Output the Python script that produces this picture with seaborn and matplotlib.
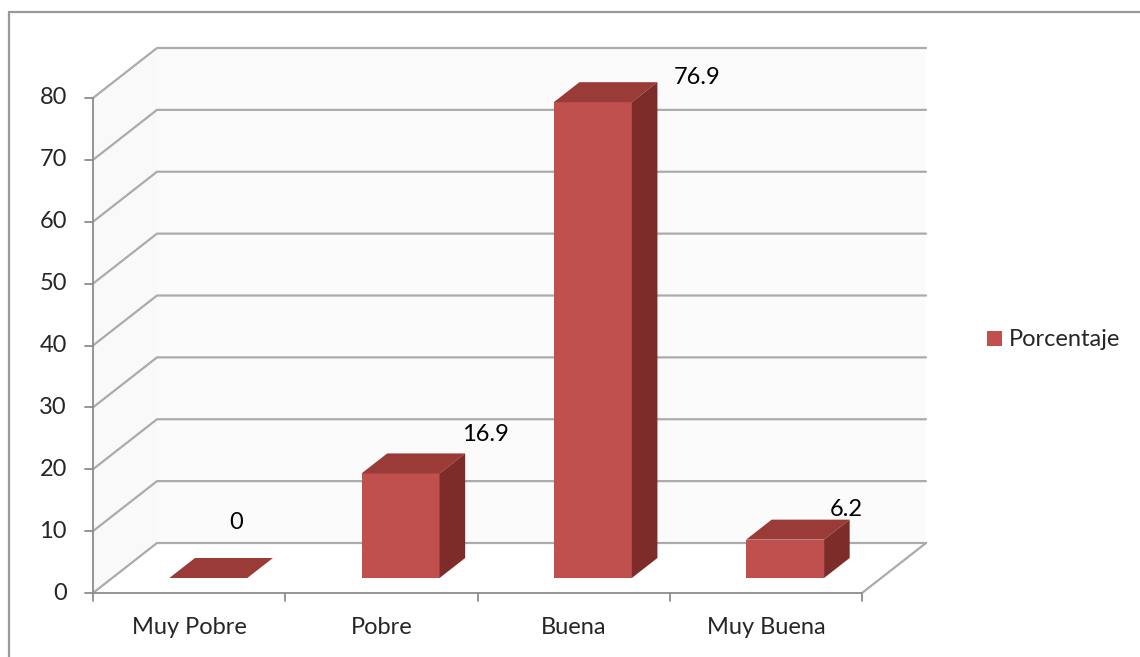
import matplotlib
matplotlib.use('Agg')
import matplotlib.pyplot as plt
import seaborn as sns
from matplotlib.patches import Polygon, Rectangle
from matplotlib.lines import Line2D

# Data
categories = ['Muy Pobre', 'Pobre', 'Buena', 'Muy Buena']
values = [0, 16.9, 76.9, 6.2]
series_name = 'Porcentaje'
y_ticks = [0, 10, 20, 30, 40, 50, 60, 70, 80]

# Colours
front = '#C0504D'
top = '#9A3B38'
side = '#7E2C2A'
grid = '#ABABAB'

sns.set_theme(style='white')
plt.rcParams['font.family'] = ['Lato', 'DejaVu Sans']
FS = 17

W, H = 1140, 657
fig = plt.figure(figsize=(W / 100, H / 100), dpi=100)

# axes placed in pixels: front axis from x=93 to back wall end x=930, y=0 at 593, top of back wall 48
ax = fig.add_axes([93 / W, (H - 593) / H, (930 - 93) / W, (593 - 48) / H])
px_x = 192.25          # pixels per category
px_y = 6.1875          # pixels per unit
xmax = -0.5 + (930 - 93) / px_x
ymax = (593 - 48) / px_y
ax.set_xlim(-0.5, xmax)
ax.set_ylim(0, ymax)
ax.axis('off')

DX = 64 / px_x         # depth offset of the back wall
DY = 50 / px_y
bw = 78 / px_x         # bar width
d0, d1 = 0.3, 0.7      # bar front/back depth fraction

# back wall gridlines
ax.add_patch(Polygon([(-0.5, 0), (-0.5 + DX, DY), (-0.5 + DX, 80 + DY), (-0.5, 80)],
                     closed=True, facecolor='#F9F9F9', edgecolor='none', zorder=0))
ax.add_patch(Polygon([(-0.5 + DX, DY), (3.5 + DX, DY), (3.5 + DX, 80 + DY), (-0.5 + DX, 80 + DY)],
                     closed=True, facecolor='#FBFBFB', edgecolor='none', zorder=0))
for v in y_ticks:
    ax.add_line(Line2D([-0.5, -0.5 + DX, 3.5 + DX], [v, v + DY, v + DY],
                       color=grid, lw=1.6, zorder=1, clip_on=False))
# floor right edge
ax.add_line(Line2D([3.5, 3.5 + DX], [0, DY], color=grid, lw=1.6, zorder=1, clip_on=False))

# bars
sns.barplot(x=categories, y=values, color=front, width=bw, saturation=1, ax=ax, zorder=3)
ax.set_xlim(-0.5, xmax)
ax.set_ylim(0, ymax)
ddx = (d1 - d0) * DX
ddy = (d1 - d0) * DY
for p in ax.patches[2:]:
    x0 = p.get_x() + d0 * DX
    y0 = d0 * DY
    h = p.get_height()
    p.set_x(x0)
    p.set_y(y0)
    p.set_edgecolor('none')
    x1 = x0 + p.get_width()
    ax.add_patch(Polygon([(x0, y0 + h), (x1, y0 + h), (x1 + ddx, y0 + h + ddy), (x0 + ddx, y0 + h + ddy)],
                         closed=True, facecolor=top, edgecolor='none', zorder=4))
    ax.add_patch(Polygon([(x1, y0), (x1 + ddx, y0 + ddy), (x1 + ddx, y0 + h + ddy), (x1, y0 + h)],
                         closed=True, facecolor=side, edgecolor='none', zorder=4))

# data labels (Excel places them loosely above/right of each bar)
label_off = [(-8, 40), (33, 28), (47, 18), (16, 22)]
for p, v, off in zip(ax.patches[2:], values, label_off):
    ax.annotate(f'{v:g}', (p.get_x() + p.get_width(), p.get_y() + p.get_height()),
                xytext=off, textcoords='offset points', ha='center', va='center',
                fontsize=FS, color='black', zorder=6)

# axes lines and ticks
ax.add_line(Line2D([-0.5, -0.5], [0, 80], color='#8C8C8C', lw=1.3, zorder=5, clip_on=False))
ax.add_line(Line2D([-0.5, 3.5], [0, 0], color='#8C8C8C', lw=1.3, zorder=5, clip_on=False))
tl_x = 8 / px_x
tl_y = 8 / px_y
for v in y_ticks:
    ax.add_line(Line2D([-0.5 - tl_x, -0.5], [v, v], color='#8C8C8C', lw=1.3, clip_on=False))
    ax.text(-0.5 - 26 / px_x, v, str(v), ha='right', va='center', fontsize=FS)
for i in range(len(categories) + 1):
    ax.add_line(Line2D([i - 0.5, i - 0.5], [0, -tl_y], color='#8C8C8C', lw=1.3, clip_on=False))
for i, c in enumerate(categories):
    ax.text(i, -34 / px_y, c, ha='center', va='center', fontsize=FS)

# legend
fig.patches.append(Rectangle((987 / W, 1 - 346 / H), 15 / W, 15 / H, transform=fig.transFigure,
                             facecolor=front, edgecolor='none', figure=fig))
fig.text(1009 / W, 1 - 339 / H, series_name, ha='left', va='center', fontsize=FS)

# outer chart border
fig.add_artist(Line2D([9 / W, 9 / W], [0, 1 - 12 / H], color='#9A9A9A', lw=1.6, transform=fig.transFigure))
fig.add_artist(Line2D([9 / W, 1], [1 - 12 / H, 1 - 12 / H], color='#9A9A9A', lw=1.6, transform=fig.transFigure))

fig.savefig('out.png', dpi=100)
